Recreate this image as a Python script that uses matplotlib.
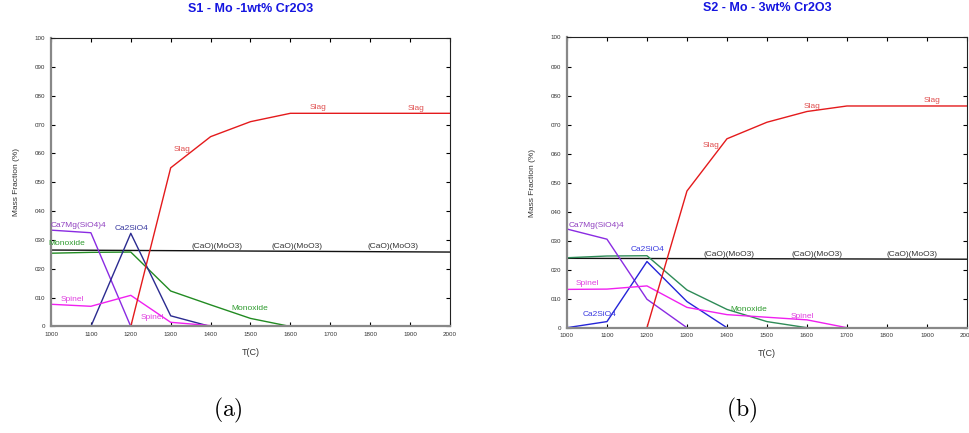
import matplotlib.pyplot as plt

plt.rcParams['mathtext.fontset'] = 'cm'
plt.rcParams['font.family'] = ['Liberation Sans', 'DejaVu Sans']

T = [1000, 1100, 1200, 1300, 1400, 1500, 1600, 1700, 1800, 1900, 2000]
y_ticks = [0, 0.1, 0.2, 0.3, 0.4, 0.5, 0.6, 0.7, 0.8, 0.9, 1.0]
y_ticklabels = ['0', '010', '020', '030', '040', '050', '060', '070', '080', '090', '100']

# S1 - 1 wt% Cr2O3
s1_slag_T = [1200, 1300, 1400, 1500, 1600, 2000]
s1_slag = [0, 0.550, 0.658, 0.710, 0.739, 0.739]
s1_camoo4_T = [1000, 2000]
s1_camoo4 = [0.265, 0.258]
s1_mono_T = [1000, 1100, 1200, 1300, 1400, 1500, 1600]
s1_mono = [0.254, 0.257, 0.258, 0.123, 0.075, 0.028, 0]
s1_merw_T = [1000, 1100, 1200]
s1_merw = [0.334, 0.325, 0]
s1_c2s_T = [1100, 1200, 1300, 1400]
s1_c2s = [0, 0.323, 0.037, 0]
s1_spinel_T = [1000, 1100, 1200, 1300, 1400, 1450]
s1_spinel = [0.077, 0.070, 0.108, 0.0145, 0.003, 0]

# S2 - 3 wt% Cr2O3
s2_slag_T = [1200, 1300, 1400, 1500, 1600, 1700, 2000]
s2_slag = [0, 0.471, 0.651, 0.708, 0.745, 0.764, 0.764]
s2_camoo4_T = [1000, 2000]
s2_camoo4 = [0.239, 0.236]
s2_mono_T = [1000, 1100, 1200, 1300, 1400, 1500, 1600]
s2_mono = [0.241, 0.247, 0.248, 0.130, 0.063, 0.021, 0]
s2_merw_T = [1000, 1100, 1200, 1300]
s2_merw = [0.340, 0.305, 0.098, 0]
s2_c2s_T = [1000, 1100, 1200, 1300, 1400]
s2_c2s = [0, 0.021, 0.228, 0.090, 0]
s2_spinel_T = [1000, 1100, 1200, 1300, 1400, 1500, 1600, 1700]
s2_spinel = [0.132, 0.133, 0.144, 0.070, 0.045, 0.036, 0.027, 0]

RED = '#e41a1c'
BLACK = '#111111'
PURPLE = '#8a2be2'
MAGENTA = '#f020f0'


def setup_axes(ax, title):
    ax.set_xlim(1000, 2000)
    ax.set_ylim(0, 1.0)
    ax.set_xticks(T)
    ax.set_xticklabels([str(t) for t in T], fontsize=4.5, color='#333333')
    ax.set_yticks(y_ticks)
    ax.set_yticklabels(y_ticklabels, fontsize=4.5, color='#333333')
    ax.tick_params(direction='in', top=True, right=True, length=3, width=0.8, pad=4)
    for side in ['left', 'bottom']:
        ax.spines[side].set_color('#888888')
        ax.spines[side].set_linewidth(1.6)
    for side in ['top', 'right']:
        ax.spines[side].set_color('#222222')
        ax.spines[side].set_linewidth(0.8)
    ax.set_xlabel('T(C)', fontsize=6.5, color='#333333', labelpad=8)
    ax.set_ylabel('Mass Fraction (%)', fontsize=6, color='#333333', labelpad=11)
    ax.set_title(title, fontsize=9, fontweight='bold', color='#1515e0', pad=19)


fig = plt.figure(figsize=(9.69, 4.33), dpi=100)
ax1 = fig.add_axes([0.0526, 0.2460, 0.4118, 0.6662])
ax2 = fig.add_axes([0.5851, 0.2432, 0.4128, 0.6702])

# left panel
ax1.plot(s1_camoo4_T, s1_camoo4, color=BLACK, lw=1)
ax1.plot(s1_mono_T, s1_mono, color='#228b22', lw=1)
ax1.plot(s1_merw_T, s1_merw, color=PURPLE, lw=1)
ax1.plot(s1_c2s_T, s1_c2s, color='#2b2b90', lw=1)
ax1.plot(s1_spinel_T, s1_spinel, color=MAGENTA, lw=1)
ax1.plot(s1_slag_T, s1_slag, color=RED, lw=1)

lab = dict(fontsize=6, ha='center', va='center')
ax1.text(1328, 0.615, 'Slag', color='#e05050', **lab)
ax1.text(1669, 0.760, 'Slag', color='#e05050', **lab)
ax1.text(1915, 0.757, 'Slag', color='#e05050', **lab)
for x in [1415, 1616, 1857]:
    ax1.text(x, 0.276, '(CaO)(MoO3)', color='#333333', **lab)
ax1.text(1040, 0.286, 'Monoxide', color='#2e9b2e', **lab)
ax1.text(1499, 0.064, 'Monoxide', color='#2e9b2e', **lab)
ax1.text(1070, 0.349, 'Ca7Mg(SiO4)4', color='#9040c0', **lab)
ax1.text(1202, 0.338, 'Ca2SiO4', color='#3a3aa0', **lab)
ax1.text(1053, 0.095, 'Spinel', color='#e040e0', **lab)
ax1.text(1254, 0.032, 'Spinel', color='#e040e0', **lab)
setup_axes(ax1, 'S1 - Mo -1wt% Cr2O3')

# right panel
ax2.plot(s2_camoo4_T, s2_camoo4, color=BLACK, lw=1)
ax2.plot(s2_mono_T, s2_mono, color='#2e8b57', lw=1)
ax2.plot(s2_merw_T, s2_merw, color=PURPLE, lw=1)
ax2.plot(s2_c2s_T, s2_c2s, color='#2424d8', lw=1)
ax2.plot(s2_spinel_T, s2_spinel, color=MAGENTA, lw=1)
ax2.plot(s2_slag_T, s2_slag, color=RED, lw=1)

ax2.text(1360, 0.628, 'Slag', color='#e05050', **lab)
ax2.text(1613, 0.762, 'Slag', color='#e05050', **lab)
ax2.text(1913, 0.783, 'Slag', color='#e05050', **lab)
for x in [1405, 1625, 1862]:
    ax2.text(x, 0.253, '(CaO)(MoO3)', color='#333333', **lab)
ax2.text(1455, 0.064, 'Monoxide', color='#2e9b2e', **lab)
ax2.text(1073, 0.351, 'Ca7Mg(SiO4)4', color='#9040c0', **lab)
ax2.text(1202, 0.271, 'Ca2SiO4', color='#3a3ae0', **lab)
ax2.text(1081, 0.046, 'Ca2SiO4', color='#3a3ae0', **lab)
ax2.text(1051, 0.151, 'Spinel', color='#e040e0', **lab)
ax2.text(1588, 0.040, 'Spinel', color='#e040e0', **lab)
setup_axes(ax2, 'S2 - Mo - 3wt% Cr2O3')

fig.text(228 / 969, 1 - 410 / 433, r'$\mathrm{(a)}$', fontsize=17, ha='center', va='center')
fig.text(742 / 969, 1 - 410 / 433, r'$\mathrm{(b)}$', fontsize=17, ha='center', va='center')

fig.savefig('out.png', dpi=100)
